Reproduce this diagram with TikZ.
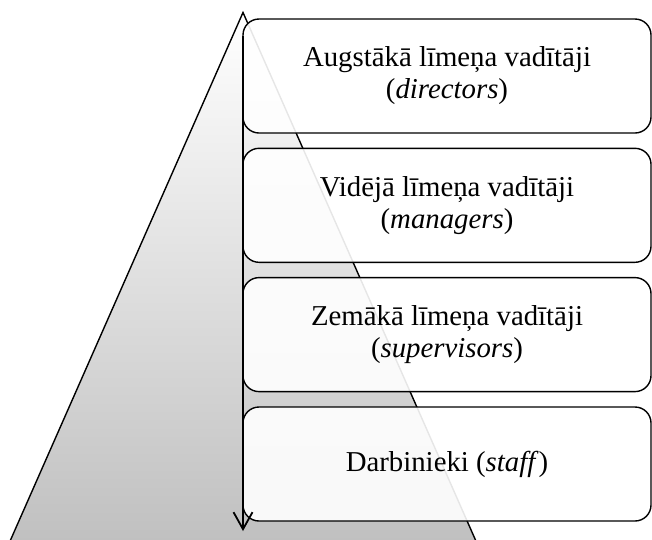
\documentclass[tikz,border=0pt]{standalone}
\usepackage{fontspec}
\setmainfont{Liberation Serif}
\usetikzlibrary{arrows.meta}

\tikzset{
  level/.style={draw=black, line width=1.4pt, fill=white, fill opacity=0.9,
    text opacity=1, rounded corners=16pt, minimum width=408pt,
    minimum height=114pt, inner sep=0pt, align=center,
    font=\fontsize{28.8}{32}\selectfont},
  pyramid/.style={top color=white, bottom color=black!25},
  flow/.style={draw=black, line width=1.8pt,
    -{Straight Barb[length=17pt,width=19pt,line width=1.8pt]}}
}

\begin{document}
\begin{tikzpicture}[x=1pt, y=-1pt]
  \useasboundingbox (0,0) rectangle (652,539);
  \clip (0,0) rectangle (652,539);

  % shaded pyramid behind the levels, its base running off the page
  \path[pyramid] (243,12.5) -- (7,548) -- (479,548) -- cycle;
  \draw[line width=1.4pt] (7,548) -- (243,12.5) -- (479,548);

  % the four levels
  \node[level] (top)  at (447,76)    {Augstākā līmeņa vadītāji\\(\textit{directors})};
  \node[level] (mid)  at (447,205.3) {Vidējā līmeņa vadītāji\\(\textit{managers})};
  \node[level] (low)  at (447,334.6) {Zemākā līmeņa vadītāji\\(\textit{supervisors})};
  \node[level] (base) at (447,464)   {Darbinieki (\textit{staff})};

  % downward arrow along the left side of the levels
  \coordinate (arrowstart) at (243,36);
  \coordinate (arrowend) at (243,531);
  \draw[flow] (arrowstart) -- (arrowend);
\end{tikzpicture}
\end{document}
